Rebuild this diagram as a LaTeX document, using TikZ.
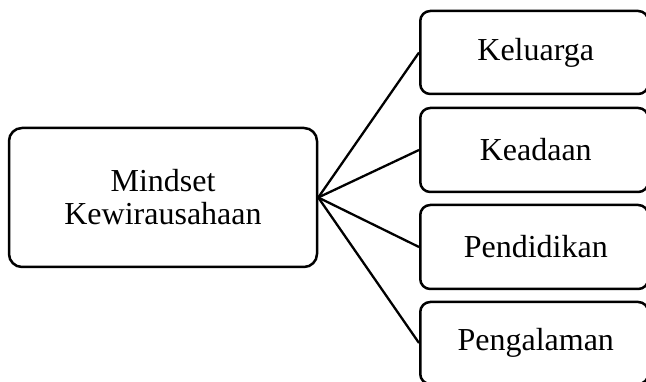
\documentclass[tikz,border=0pt]{standalone}
\usepackage{fontspec}
\setmainfont{Liberation Serif}
\begin{document}
\begin{tikzpicture}[x=1pt,y=-1pt,
  mainbox/.style={draw=black,line width=2.5pt,rounded corners=13pt,align=center,inner sep=0pt,
    font=\fontsize{32}{33}\selectfont},
  leafbox/.style={draw=black,line width=2.5pt,rounded corners=10pt,align=center,inner sep=0pt,
    minimum width=228pt,font=\fontsize{32}{33}\selectfont},
  link/.style={draw=black,line width=2.3pt}]
\useasboundingbox (0,0) rectangle (646,382);
\begin{scope}
\clip (0,0) rectangle (646,382);
\node[mainbox,minimum width=308pt,minimum height=139pt] (m) at (163,197.5) {Mindset\\Kewirausahaan};
\node[leafbox,minimum height=83pt,anchor=west] (a) at (419,52.5) {\hspace*{3pt}Keluarga};
\node[leafbox,minimum height=84pt,anchor=west] (b) at (419,150) {\hspace*{3pt}Keadaan};
\node[leafbox,minimum height=84pt,anchor=west] (c) at (419,247) {\hspace*{3pt}Pendidikan};
\node[leafbox,minimum height=82pt,anchor=west] (d) at (419,343) {\hspace*{3pt}Pengalaman};
\draw[link] (m.east) -- (a.west);
\draw[link] (m.east) -- (b.west);
\draw[link] (m.east) -- (c.west);
\draw[link] (m.east) -- (d.west);
\end{scope}
\end{tikzpicture}
\end{document}
